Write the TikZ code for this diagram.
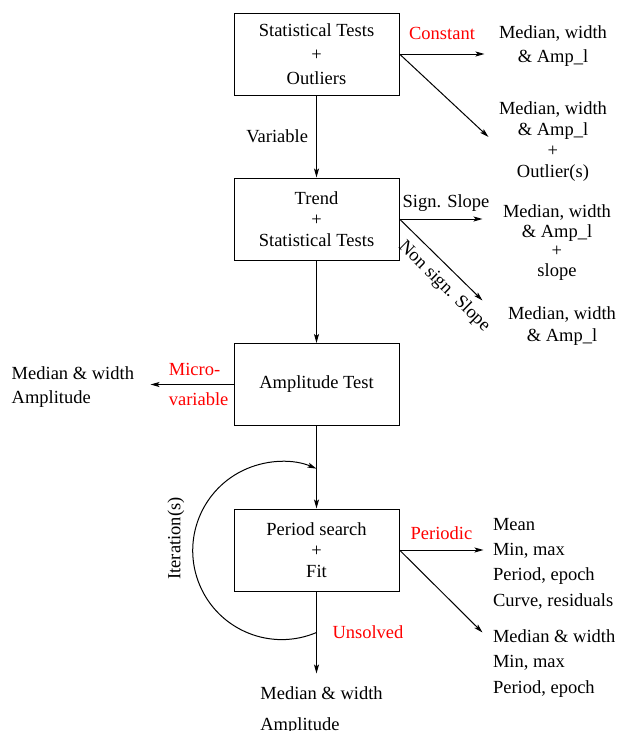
\documentclass[tikz,border=0pt]{standalone}
\usepackage{fontspec}
\setmainfont{Liberation Serif}
\usetikzlibrary{positioning,arrows.meta}

\begin{document}
\begin{tikzpicture}[x=1pt,y=-1pt,line width=1pt,
  font=\fontsize{18.5}{23}\selectfont,
  every node/.style={inner sep=2pt},
  box/.style={draw,minimum width=165pt,minimum height=82pt,align=center},
  flow/.style={-{Stealth[length=9pt,width=5pt,inset=2pt]}},
  cond/.style={text=red}]
 \useasboundingbox (0,0) rectangle (616,731);
 \node[box] (stat) at (316.5,54) {Statistical Tests\\[1pt]+\\[1pt]Outliers};
 \node[box, below=82pt of stat] (trend) {Trend\\[-2pt]+\\[-2pt]Statistical Tests};
 \node[box, below=82.5pt of trend] (ampl) {Amplitude Test};
 \node[box, below=82.5pt of ampl] (period) {Period search\\[-2pt]+\\[-2pt]Fit};
 % free ends
 \coordinate [right=85pt of stat.east] (cst);
 \coordinate [below right=83pt and 89pt of stat.east] (outl);
 \coordinate [right=83pt of trend.east] (sgn);
 \coordinate [below right=81.5pt and 83pt of trend.east] (nsgn);
 \coordinate [left=83pt of ampl.west] (micro);
 \coordinate [right=84pt of period.east] (peri);
 \coordinate [below right=82.5pt and 83pt of period.east] (peri2);
 \coordinate [below=82pt of period.south] (unsol);
 \coordinate [below=41pt of period.south] (itbot);
 % results
 \node [right=12pt of cst, yshift=8pt, align=center,
   font=\fontsize{18.5}{24}\selectfont] (cstres) {Median, width\\\& Amp\_l};
 \node [right=8pt of outl, yshift=-4.5pt, align=center,
   font=\fontsize{18.5}{21}\selectfont] (outlres) {Median, width\\\& Amp\_l\\+\\Outlier(s)};
 \node [right=18pt of sgn, yshift=-23.5pt, align=center,
   font=\fontsize{18.5}{19.5}\selectfont] (sgnres) {Median, width\\\& Amp\_l\\+\\slope};
 \node [right=23pt of nsgn, yshift=-26pt, align=center,
   font=\fontsize{18.5}{22}\selectfont] (nsgnres) {Median, width\\\& Amp\_l};
 \node [left=14pt of micro, yshift=-3pt, align=left,
   font=\fontsize{18.5}{24}\selectfont] (microres) {Median \& width\\Amplitude};
 \node [right=7pt of peri, yshift=-13.5pt, align=left,
   font=\fontsize{18.5}{25.3}\selectfont] (perires) {Mean\\Min, max\\Period, epoch\\Curve, residuals};
 \node [right=8pt of peri2, yshift=-31pt, align=left,
   font=\fontsize{18.5}{25.5}\selectfont] (peri2res) {Median \& width\\Min, max\\Period, epoch};
 \node [below=11pt of unsol, xshift=5pt, align=left,
   font=\fontsize{18.5}{31}\selectfont] (unsolres) {Median \& width\\Amplitude};
 \node [rotate=90] (iter) at ([xshift=-140.5pt,yshift=94pt]itbot) {Iteration(s)};
 % connectors
 \draw[flow] (stat) -- node[left=6pt] {Variable} (trend);
 \draw[flow] (trend) -- (ampl);
 \draw[flow] (ampl) -- (period);
 \draw[flow] (period) -- node[cond, right=13.5pt] {Unsolved} (unsol);
 \draw[flow] (stat.east) -- node[cond, above=12pt] {Constant} (cst);
 \draw[flow] (stat.east) -- (outl);
 \draw[flow] (trend.east) -- node[above=5pt, xshift=5pt] {Sign. Slope} (sgn);
 \draw[flow] (trend.east) -- node[sloped, pos=0.68, below=6pt] {Non sign. Slope} (nsgn);
 \draw[flow] (ampl.west) -- node[cond, pos=0.42, align=left,
   font=\fontsize{18.5}{30}\selectfont] {Micro-\\variable} (micro);
 \draw[flow] (period.east) -- node[cond, above=8pt] {Periodic} (peri);
 \draw[flow] (period.east) -- (peri2);
 \draw[flow] (itbot) arc[start angle=-67, end angle=-293, radius=89pt];
\end{tikzpicture}
\end{document}
